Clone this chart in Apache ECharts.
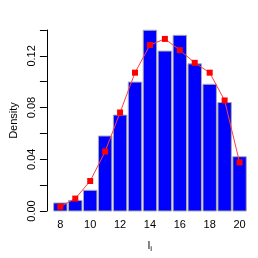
<!DOCTYPE html>
<html><head><meta charset="utf-8">
<script src="https://cdn.jsdelivr.net/npm/echarts@6/dist/echarts.min.js"></script>
<style>html,body{margin:0;padding:0;background:#fff}#c{width:258px;height:258px}</style>
</head><body><div id="c"></div>
<script>
var categories = [8, 9, 10, 11, 12, 13, 14, 15, 16, 17, 18, 19, 20];
var barValues = [0.0062, 0.0082, 0.016, 0.058, 0.0742, 0.0997, 0.1398, 0.1237, 0.1359, 0.1138, 0.098, 0.0839, 0.042];
var pointValues = [0.0034, 0.0096, 0.0232, 0.046, 0.0762, 0.107, 0.1284, 0.1331, 0.1244, 0.1146, 0.107, 0.0855, 0.0376];
var xTickLabels = [8, 10, 12, 14, 16, 18, 20];
var yTickLabels = [0, 0.04, 0.08, 0.12];
var yTicks = [0, 0.02, 0.04, 0.06, 0.08, 0.10, 0.12, 0.14];

var barData = categories.map(function (c, i) { return [c, barValues[i]]; });
var pointData = categories.map(function (c, i) { return [c, pointValues[i]]; });
var FONT = 'Liberation Sans, Arial, sans-serif';

var chart = echarts.init(document.getElementById('c'), null, {renderer: 'canvas'});
chart.setOption({
  animation: false,
  backgroundColor: '#fff',
  grid: {left: 37.7, right: 5, top: 30, bottom: 39.7},
  xAxis: {
    type: 'value', min: 7.1, max: 20.9,
    axisLine: {show: false}, axisTick: {show: false}, splitLine: {show: false},
    axisLabel: {customValues: xTickLabels, color: '#000', fontSize: 11, fontFamily: FONT, margin: 8},
    name: '{l|l}{i|i}', nameLocation: 'middle', nameGap: 28,
    nameTextStyle: {rich: {
      l: {fontSize: 11, fontFamily: FONT, color: '#000'},
      i: {fontSize: 8, fontFamily: FONT, color: '#000', verticalAlign: 'bottom', padding: [6, 0, 0, 0]}
    }}
  },
  yAxis: {
    type: 'value', min: 0, max: 0.14,
    splitLine: {show: false},
    axisLine: {show: true, lineStyle: {color: '#000', width: 1}},
    axisTick: {show: true, customValues: yTicks, length: 7, lineStyle: {color: '#000'}},
    axisLabel: {customValues: yTickLabels, rotate: 90, color: '#000', fontSize: 11, fontFamily: FONT, margin: 9,
      formatter: function (v) { return v.toFixed(2); }},
    name: 'Density', nameLocation: 'middle', nameGap: 27, nameRotate: 90,
    nameTextStyle: {fontSize: 11, fontFamily: FONT, color: '#000'}
  },
  series: [
    {
      type: 'custom',
      data: barData,
      renderItem: function (params, api) {
        var x = api.value(0), y = api.value(1);
        var p0 = api.coord([x - 0.45, y]);
        var p1 = api.coord([x + 0.45, 0]);
        return {
          type: 'rect',
          shape: {x: p0[0], y: p0[1], width: p1[0] - p0[0], height: p1[1] - p0[1]},
          style: {fill: '#0000ff', stroke: '#aaaaaa', lineWidth: 1}
        };
      },
      z: 1
    },
    {
      type: 'line',
      data: pointData,
      symbol: 'rect', symbolSize: 6,
      lineStyle: {color: '#ff4040', width: 1},
      itemStyle: {color: '#ff0000'},
      z: 2
    }
  ]
});
</script></body></html>
